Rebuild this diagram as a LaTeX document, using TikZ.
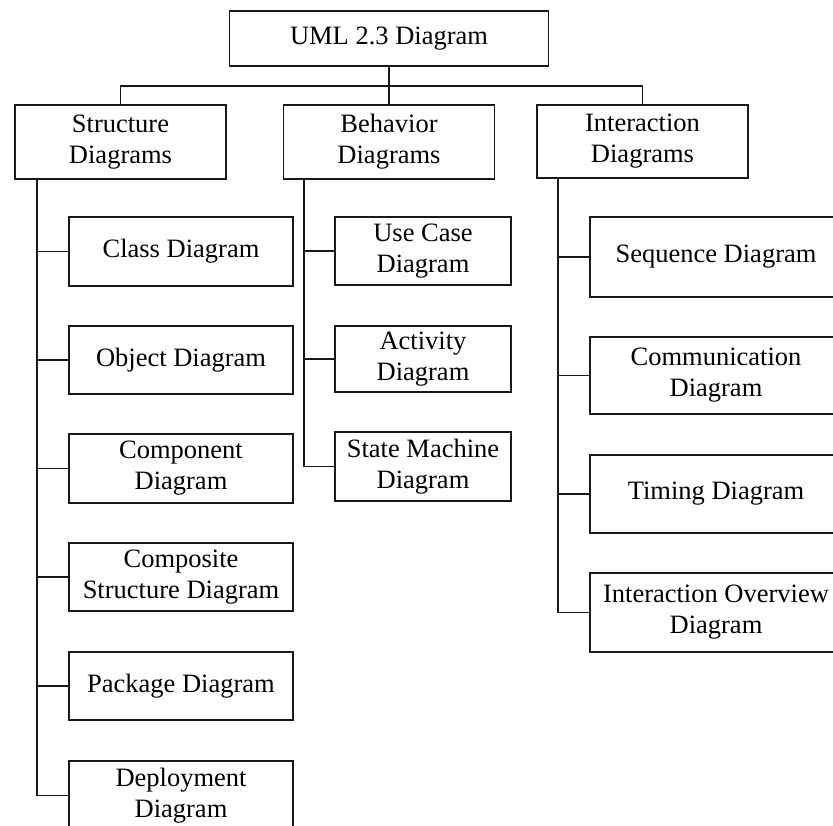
\documentclass[tikz,border=0pt]{standalone}
\usepackage{fontspec}
\setmainfont{Liberation Serif}
\begin{document}
\begin{tikzpicture}[x=1pt,y=-1pt,
  box/.style={draw=black!90, line width=1.9pt, align=center, inner sep=0pt,
    font=\fontsize{26.5}{31}\selectfont},
  link/.style={draw=black!90, line width=1.9pt}]
\useasboundingbox (0,0) rectangle (833,825);
\clip (0,0) rectangle (833,825);

% root
\node[box, minimum width=319pt, minimum height=55pt] (top) at (389,38.5) {UML 2.3 Diagram};

% categories
\node[box, minimum width=211pt, minimum height=74pt] (struc) at (120.5,142) {Structure\\Diagrams};
\node[box, minimum width=211pt, minimum height=74pt] (behav) at (389,142) {Behavior\\Diagrams};
\node[box, minimum width=211pt, minimum height=73pt] (inter) at (642.5,141.5) {Interaction\\Diagrams};

% structure diagrams
\node[box, minimum width=224pt, minimum height=69pt] (class) at (181,251.5) {Class Diagram};
\node[box, minimum width=224pt, minimum height=68pt] (object) at (181,360) {Object Diagram};
\node[box, minimum width=224pt, minimum height=69pt] (component) at (181,468.5) {Component\\Diagram};
\node[box, minimum width=224pt, minimum height=68pt] (composite) at (181,577) {Composite\\Structure Diagram};
\node[box, minimum width=224pt, minimum height=68pt] (package) at (181,686) {Package Diagram};
\node[box, minimum width=224pt, minimum height=69pt] (deploy) at (181,795.5) {Deployment\\Diagram};

% behavior diagrams
\node[box, minimum width=176pt, minimum height=68pt] (usecase) at (423,251) {Use Case\\Diagram};
\node[box, minimum width=176pt, minimum height=66pt] (activity) at (423,359) {Activity\\Diagram};
\node[box, minimum width=176pt, minimum height=69pt] (statem) at (423,466.5) {State Machine\\Diagram};

% interaction diagrams
\node[box, minimum width=252pt, minimum height=80pt] (seq) at (716,257) {Sequence Diagram};
\node[box, minimum width=252pt, minimum height=77pt] (comm) at (716,375.5) {Communication\\Diagram};
\node[box, minimum width=252pt, minimum height=78pt] (timing) at (716,494) {Timing Diagram};
\node[box, minimum width=252pt, minimum height=79pt] (intov) at (716,612.5) {Interaction Overview\\Diagram};

% root to categories
\coordinate (bus) at (389,86);
\draw[link] (top.south) -- (behav.north);
\draw[link] (struc.north) |- (bus) -| (inter.north);

% spines
\coordinate (sspine) at (37,179);
\coordinate (bspine) at (304,179);
\coordinate (ispine) at (558,178);
\draw[link] (sspine) |- (deploy.west);
\draw[link] (bspine) |- (statem.west);
\draw[link] (ispine) |- (intov.west);

% branches
\foreach \n in {class,object,component,composite,package}
  \draw[link] (\n.west) -- (\n.west -| sspine);
\foreach \n in {usecase,activity}
  \draw[link] (\n.west) -- (\n.west -| bspine);
\foreach \n in {seq,comm,timing}
  \draw[link] (\n.west) -- (\n.west -| ispine);
\end{tikzpicture}
\end{document}
